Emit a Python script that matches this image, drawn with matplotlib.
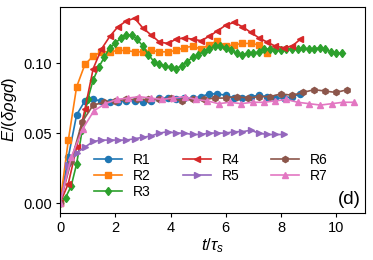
import numpy as np
import matplotlib
matplotlib.use("Agg")
import matplotlib.pyplot as plt

plt.rcParams['font.family'] = ['Liberation Sans', 'DejaVu Sans']
plt.rcParams['mathtext.fontset'] = 'custom'
plt.rcParams['mathtext.it'] = 'Liberation Sans:italic'
plt.rcParams['mathtext.rm'] = 'Liberation Sans'

# sampling of each run (start 0, step dt)
dt_r1, dt_r2, dt_r3, dt_r4, dt_r5, dt_r6, dt_r7 = 0.3, 0.3, 0.2, 0.3, 0.3, 0.4, 0.41

r1 = [0.0, 0.033, 0.063, 0.073, 0.074, 0.073, 0.072, 0.072, 0.073, 0.073,
      0.072, 0.073, 0.075, 0.075, 0.074, 0.075, 0.075, 0.076, 0.078, 0.078,
      0.077, 0.075, 0.075, 0.076, 0.077, 0.076, 0.075, 0.075, 0.076, 0.078]
r2 = [0.0, 0.045, 0.083, 0.099, 0.105, 0.108, 0.108, 0.109, 0.109, 0.108,
      0.108, 0.109, 0.108, 0.108, 0.109, 0.111, 0.112, 0.110, 0.113, 0.116,
      0.112, 0.113, 0.114, 0.114, 0.113, 0.107]
r3 = [0.0, 0.004, 0.012, 0.028, 0.052, 0.074, 0.088, 0.097, 0.104, 0.111,
      0.114, 0.118, 0.120, 0.120, 0.117, 0.112, 0.106, 0.101, 0.099, 0.098,
      0.097, 0.096, 0.098, 0.101, 0.104, 0.106, 0.108, 0.110, 0.112, 0.112,
      0.111, 0.109, 0.107, 0.106, 0.107, 0.107, 0.108, 0.110, 0.110, 0.109,
      0.109, 0.110, 0.110, 0.110, 0.111, 0.110, 0.110, 0.111, 0.110, 0.108,
      0.107, 0.107]
r4 = [0.0, 0.014, 0.040, 0.067, 0.096, 0.110, 0.119, 0.126, 0.130, 0.132,
      0.125, 0.120, 0.115, 0.114, 0.117, 0.118, 0.117, 0.116, 0.119, 0.123,
      0.127, 0.129, 0.126, 0.122, 0.118, 0.115, 0.112, 0.111, 0.112, 0.117]
r5 = [0.0, 0.027, 0.036, 0.040, 0.044, 0.045, 0.045, 0.045, 0.045, 0.046,
      0.047, 0.048, 0.050, 0.051, 0.050, 0.050, 0.049, 0.049, 0.050, 0.050,
      0.050, 0.051, 0.051, 0.052, 0.050, 0.049, 0.049, 0.049]
r6 = [0.0, 0.030, 0.058, 0.070, 0.072, 0.073, 0.074, 0.074, 0.074, 0.074,
      0.075, 0.073, 0.074, 0.074, 0.075, 0.075, 0.076, 0.075, 0.076, 0.076,
      0.078, 0.077, 0.079, 0.081, 0.080, 0.079, 0.081]
r7 = [0.0, 0.033, 0.053, 0.066, 0.071, 0.074, 0.075, 0.076, 0.075, 0.074,
      0.075, 0.076, 0.074, 0.073, 0.071, 0.072, 0.071, 0.072, 0.072, 0.073,
      0.074, 0.072, 0.071, 0.070, 0.071, 0.072, 0.072]

series = [("R1", r1, dt_r1, 'C0', 'o'), ("R2", r2, dt_r2, 'C1', 's'),
          ("R3", r3, dt_r3, 'C2', 'd'), ("R4", r4, dt_r4, 'C3', '<'),
          ("R5", r5, dt_r5, 'C4', '>'), ("R6", r6, dt_r6, 'C5', 'h'),
          ("R7", r7, dt_r7, 'C6', '^')]

fig = plt.figure(figsize=(3.73, 2.6), dpi=100)
ax = fig.add_axes([0.161, 0.181, 0.818, 0.792])

for name, vals, dt, col, mk in series:
    t = np.arange(len(vals)) * dt
    ax.plot(t, vals, color=col, marker=mk, markersize=4.4, lw=1.2, label=name)

ax.set_xlim(0, 11.05)
ax.set_ylim(-0.007, 0.14)
ax.set_xticks([0, 2, 4, 6, 8, 10])
ax.set_yticks([0.0, 0.05, 0.10])
ax.set_yticklabels(['0.00', '0.05', '0.10'])
ax.tick_params(labelsize=10.5, length=3, width=0.8, pad=2.5)
ax.set_xlabel(r'$t/\tau_s$', fontsize=12, labelpad=1)
ax.set_ylabel(r'$E/(\delta\rho g d)$', fontsize=12, labelpad=3)
ax.text(0.985, 0.025, '(d)', transform=ax.transAxes, ha='right', va='bottom', fontsize=13.5)

ax.legend(ncol=3, loc='upper left', bbox_to_anchor=(0.08, 0.34), frameon=False,
          fontsize=10, handlelength=2.0, labelspacing=0.15, columnspacing=2.3,
          handletextpad=0.8, borderpad=0.2)

fig.savefig("out.png", dpi=100)
